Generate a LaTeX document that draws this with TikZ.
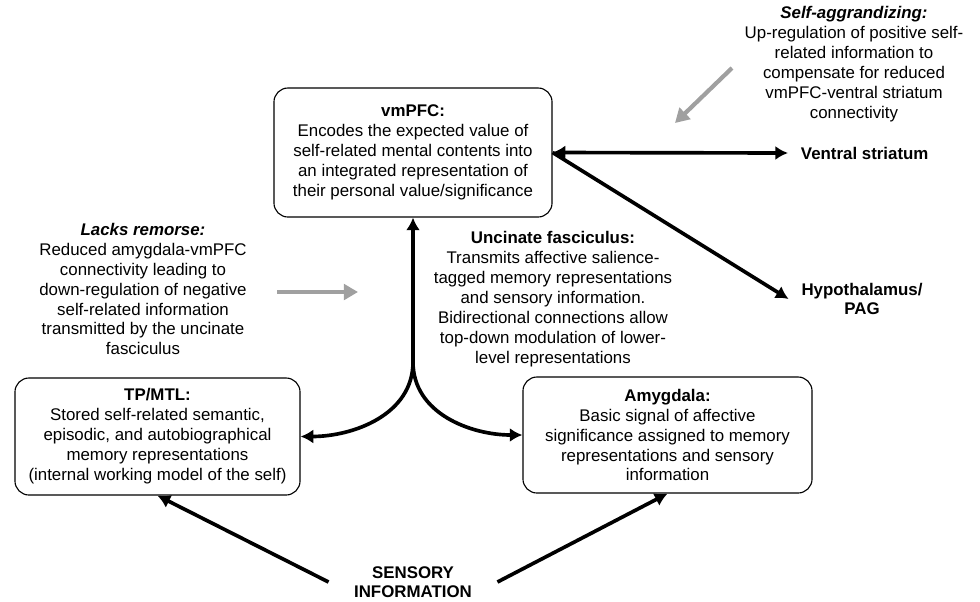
\documentclass[tikz,border=0pt]{standalone}
\usepackage{fontspec}
\setmainfont{Liberation Sans}
\usepackage{xcolor}
\usetikzlibrary{arrows.meta}
\definecolor{hintgray}{RGB}{160, 160, 160}

\begin{document}
\begin{tikzpicture}[
    x=0.025cm, y=-0.025cm,
    region/.style={rectangle, draw=black, line width=0.8pt, rounded corners=10pt, align=center, font=\fontsize{12}{14.2}\selectfont},
    note/.style={align=center, font=\fontsize{12}{14.2}\selectfont},
    target/.style={align=center, inner xsep=9pt, font=\bfseries\fontsize{12}{13.5}\selectfont},
    link/.style={line width=2.6pt, -{Latex[length=9pt, width=10pt]}},
    dlink/.style={line width=2.6pt, {Latex[length=9pt, width=10pt]}-{Latex[length=9pt, width=10pt]}},
    hint/.style={line width=3pt, draw=hintgray, -{Triangle[length=10pt, width=11pt]}, hintgray}
]
    \useasboundingbox (0,0) rectangle (980,601);

    % Brain regions
    \node[region, minimum width=6.95cm, minimum height=3.225cm] (vmpfc) at (413, 152.5) {\textbf{vmPFC:}\\Encodes the expected value of\\self-related mental contents into\\an integrated representation of\\their personal value/significance};
    \node[region, minimum width=7.125cm, minimum height=2.925cm] (tpmtl) at (157.5, 436.5) {\textbf{TP/MTL:}\\Stored self-related semantic,\\episodic, and autobiographical\\memory representations\\(internal working model of the self)};
    \node[region, minimum width=7.225cm, minimum height=2.9cm] (amyg) at (667.5, 435) {\textbf{Amygdala:}\\Basic signal of affective\\significance assigned to memory\\representations and sensory\\information};

    % Output targets
    \node[target, anchor=west] (vstr) at (788, 153) {Ventral striatum};
    \node[target] (hypo) at (862, 299) {Hypothalamus/\\PAG};
    \node[target, inner xsep=18pt] (sensory) at (413, 582) {SENSORY\\INFORMATION};

    % Annotations
    \node[note] (lacks) at (143, 289) {\textbf{\textit{Lacks remorse:}}\\Reduced amygdala-vmPFC\\connectivity leading to\\down-regulation of negative\\self-related information\\transmitted by the uncinate\\fasciculus};
    \node[note] (uncin) at (553, 299) {\textbf{Uncinate fasciculus:}\\Transmits affective salience-\\tagged memory representations\\and sensory information.\\Bidirectional connections allow\\top-down modulation of lower-\\level representations};
    \node[note] (selfag) at (854, 64) {\textbf{\textit{Self-aggrandizing:}}\\Up-regulation of positive self-\\related information to\\compensate for reduced\\vmPFC-ventral striatum\\connectivity};

    \coordinate (split) at (413, 362);
    \coordinate (lacks_from) at (277, 292);
    \coordinate (lacks_to) at (358, 292);
    \coordinate (selfag_from) at (732, 68);
    \coordinate (selfag_to) at (675, 123);

    % Arrows
    \draw[dlink] (tpmtl.east) to[out=0, in=-90] (split) -- (vmpfc.south);
    \draw[link] (split) to[out=-90, in=180] (amyg.west);

    \draw[dlink] (vmpfc.east) -- (vstr.west);
    \draw[link] (vmpfc.east) -- (hypo.west);

    \draw[link] (sensory.west) -- (tpmtl.south);
    \draw[link] (sensory.east) -- (amyg.south);

    \draw[hint] (lacks_from) -- (lacks_to);
    \draw[hint] (selfag_from) -- (selfag_to);

\end{tikzpicture}
\end{document}
